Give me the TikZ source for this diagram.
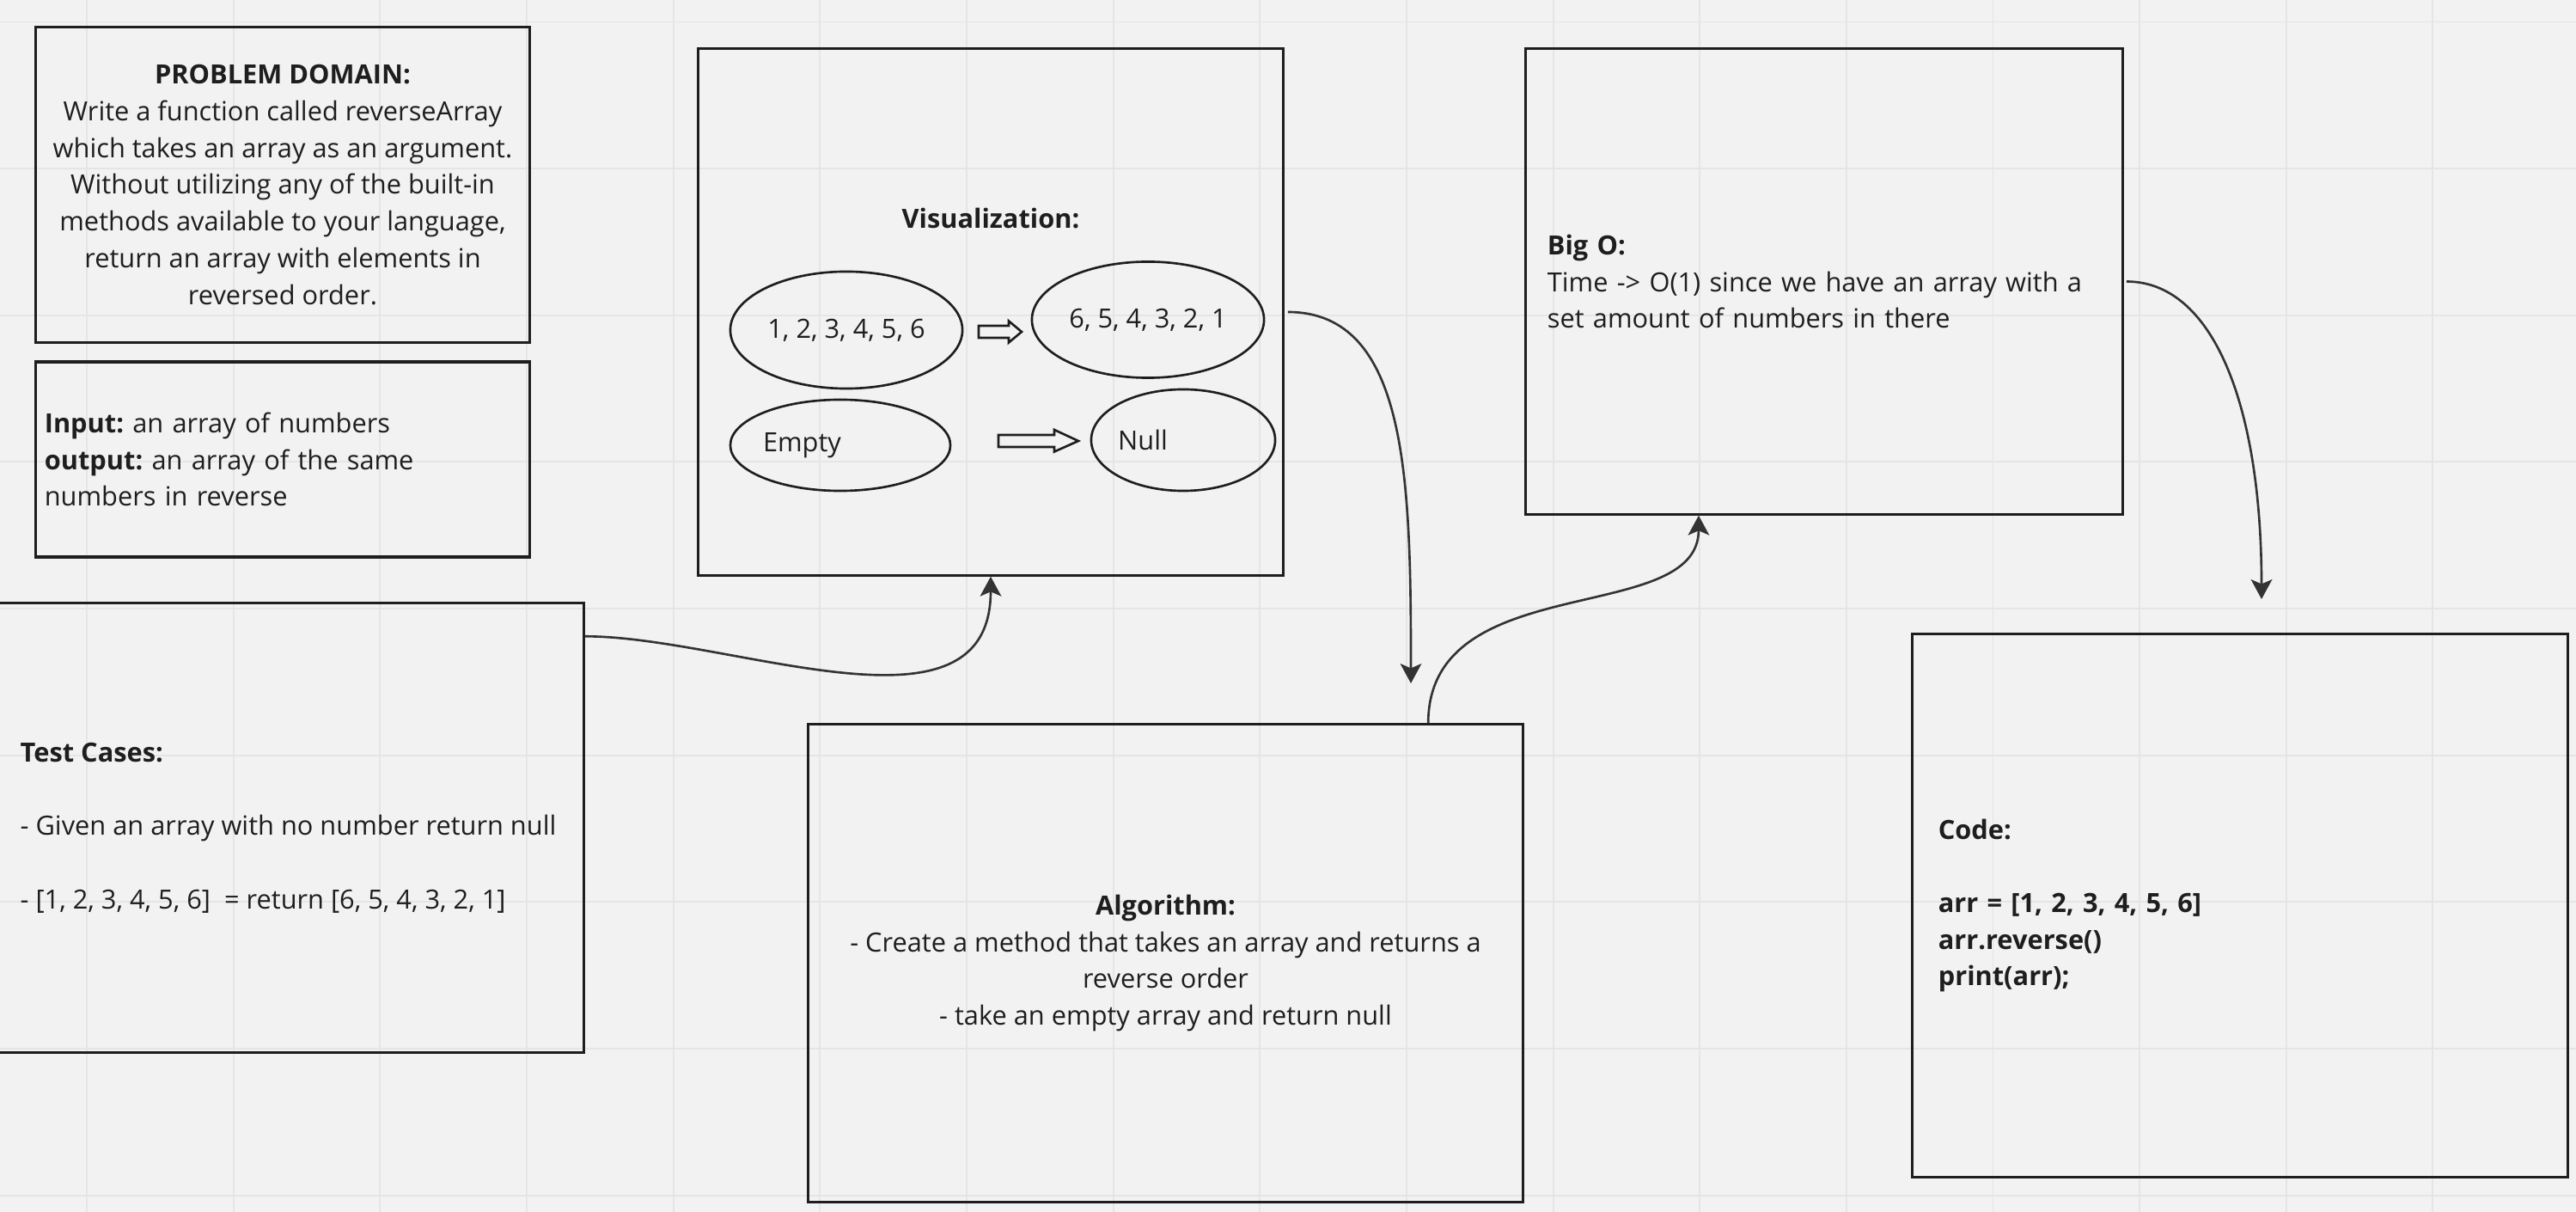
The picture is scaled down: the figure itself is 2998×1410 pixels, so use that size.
\documentclass[tikz,border=0pt]{standalone}
\usepackage{fontspec}
\setmainfont{Open Sans}
\usetikzlibrary{arrows.meta,shapes.geometric}
\definecolor{board}{HTML}{F2F2F2}
\definecolor{gridline}{HTML}{E5E5E5}
\definecolor{ink}{HTML}{1E1E1E}
\definecolor{wire}{HTML}{333333}
\frenchspacing
\begin{document}
\begin{tikzpicture}[x=0.01cm,y=-0.01cm,
    every node/.style={font=\fontsize{8.75}{12.15}\selectfont,text=ink},
    box/.style={rectangle,draw=ink,line width=0.9pt,inner sep=0pt},
    oval/.style={ellipse,draw=ink,line width=0.75pt,inner sep=0pt},
    flow/.style={draw=wire,line width=0.75pt,-{Stealth[length=6.5pt,width=7pt,inset=1.5pt]}},
    hollow/.style={draw=ink,line width=0.75pt,fill=board,line join=miter},
    gridrule/.style={draw=gridline,line width=0.55pt}]

    \useasboundingbox[fill=board] (0,0) rectangle (2998,1410);
    \clip (0,0) rectangle (2998,1410);

    % board grid
    \foreach \i in {0,...,16}
        \draw[gridrule] (101+170.65*\i,0) -- (101+170.65*\i,1410);
    \foreach \j in {0,...,8}
        \draw[gridrule] (0,25.5+170.65*\j) -- (2998,25.5+170.65*\j);

    % left column
    \node[box,minimum width=5.74cm,minimum height=3.66cm,align=center] (pd) at (329,215)
        {\textbf{PROBLEM DOMAIN:}\\Write a function called reverseArray\\which takes an array as an argument.\\Without utilizing any of the built-in\\methods available to your language,\\return an array with elements in\\reversed order.};
    \node[box,minimum width=5.74cm,minimum height=2.27cm,text width=5.54cm,align=left] (inp) at (329,534.5)
        {\textbf{Input:} an array of numbers\\\textbf{output:} an array of the same\\numbers in reverse};
    \node[box,minimum width=7.39cm,minimum height=5.22cm] (tests) at (309.5,963) {};
    \node[anchor=west,align=left,inner sep=0pt] (testtxt) at (23,963)
        {\textbf{Test Cases:}\\[12.15pt]- Given an array with no number return null\\[12.15pt]- [1, 2, 3, 4, 5, 6]\ \ = return [6, 5, 4, 3, 2, 1]};

    % visualization
    \node[box,minimum width=6.80cm,minimum height=6.12cm] (vis) at (1153,363) {};
    \node (vistitle) at (1153,254) {\textbf{Visualization:}};
    \node[oval,minimum width=2.70cm,minimum height=1.36cm] (src) at (985,384) {1, 2, 3, 4, 5, 6};
    \node[oval,minimum width=2.70cm,minimum height=1.35cm] (dst) at (1336,372) {6, 5, 4, 3, 2, 1};
    \node[oval,minimum width=2.56cm,minimum height=1.06cm] (empty) at (978,518) {};
    \node (emptytxt) at ([xshift=-0.445cm]empty.center) {Empty};
    \node[oval,minimum width=2.14cm,minimum height=1.18cm] (null) at (1377,512) {};
    \node (nulltxt) at ([xshift=-0.47cm]null.center) {Null};
    \draw[hollow] (1139,379) -- (1174,379) -- (1174,373.5) -- (1189,386) -- (1174,398.5) -- (1174,393) -- (1139,393) -- cycle;
    \draw[hollow] (1162,506) -- (1227,506) -- (1227,500) -- (1255,513) -- (1227,525.5) -- (1227,520) -- (1162,520) -- cycle;

    % algorithm, big o, code
    \node[box,minimum width=8.31cm,minimum height=5.55cm,align=center] (algo) at (1356.5,1120.5)
        {\textbf{Algorithm:}\\- Create a method that takes an array and returns a\\reverse order\\- take an empty array and return null};
    \node[box,minimum width=6.94cm,minimum height=5.41cm,text width=6.44cm,align=left] (bigo) at (2123,327.5)
        {\textbf{Big O:}\\Time -> O(1) since we have an array with a\\set amount of numbers in there};
    \node[box,minimum width=7.62cm,minimum height=6.31cm,text width=7.02cm,align=left,
          font=\fontsize{8.75}{12.15}\selectfont\bfseries] (code) at (2607,1053.5)
        {Code:\\[12.15pt]arr = [1, 2, 3, 4, 5, 6]\\arr.reverse()\\print(arr);};

    \coordinate (algoin) at (1642,795);
    \coordinate (codein) at (2632,697);

    % connectors
    \draw[flow] ([yshift=-0.40cm]tests.north east) .. controls +(1.70cm,0) and +(0,-2.0cm) .. (vis.south);
    \draw[flow] ([xshift=0.04cm]vis.east) .. controls +(1.40cm,0) and +(0,2.35cm) .. (algoin);
    \draw[flow] ([xshift=3.055cm]algo.north) .. controls +(0,1.81cm) and +(0,-1.30cm) .. ([xshift=-1.46cm]bigo.south);
    \draw[flow] ([xshift=0.03cm]bigo.east) .. controls +(1.0cm,0) and +(0,2.27cm) .. (codein);
\end{tikzpicture}
\end{document}
